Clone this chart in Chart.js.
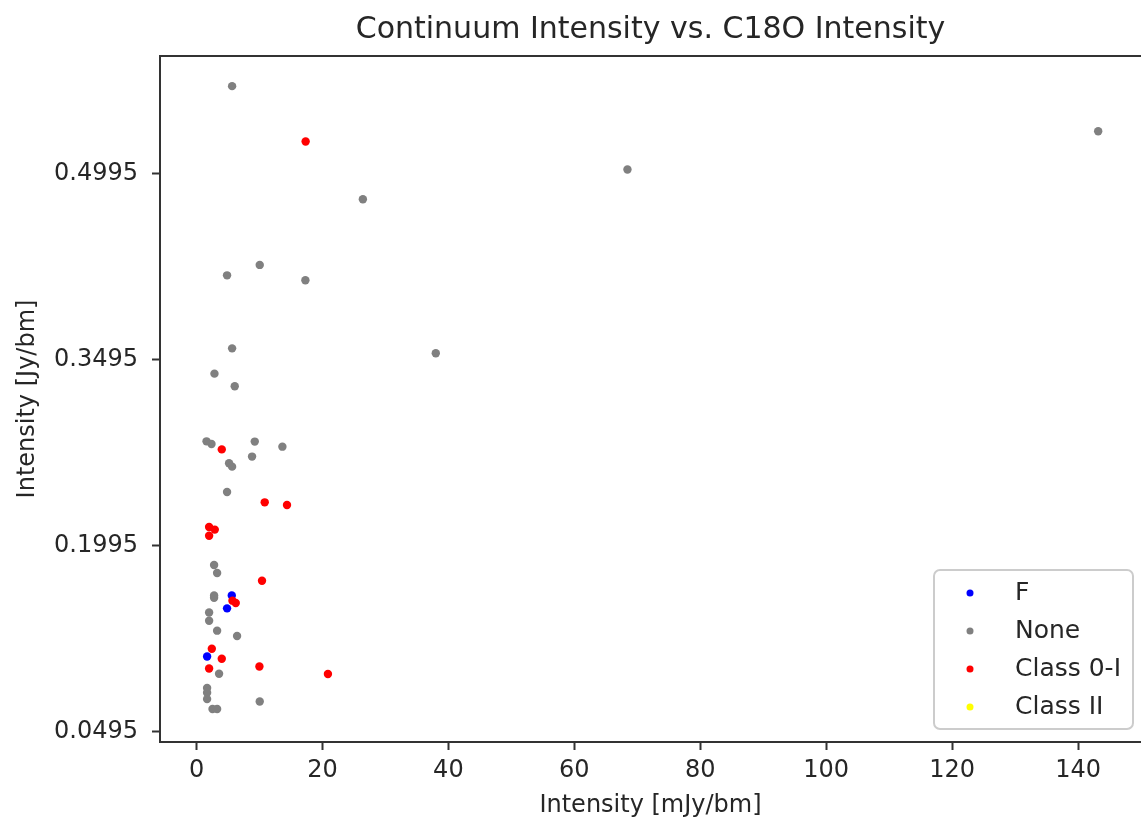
<!DOCTYPE html>
<html>
<head>
<meta charset="utf-8">
<title>Continuum Intensity vs. C18O Intensity</title>
<script src="https://cdn.jsdelivr.net/npm/chart.js@4.4.1/dist/chart.umd.min.js"></script>
<style>
  html, body { margin: 0; padding: 0; background: #fff; }
  #wrap { width: 1141px; height: 821px; }
</style>
</head>
<body>
<div id="wrap"><canvas id="scatterChart" width="1141" height="821"></canvas></div>
<script>
// values (x: C18O intensity mJy/bm, y: continuum Jy/bm)
const classF = [
    { x: 5.60, y: 0.1592 }, { x: 4.85, y: 0.1488 }, { x: 1.68, y: 0.1100 }
];
const classNone = [
    { x: 5.65, y: 0.5700 }, { x: 143.2, y: 0.5336 }, { x: 68.44, y: 0.5027 },
    { x: 26.42, y: 0.4788 }, { x: 10.04, y: 0.4258 }, { x: 4.85, y: 0.4174 },
    { x: 17.29, y: 0.4134 }, { x: 5.65, y: 0.3585 }, { x: 38.0, y: 0.3545 },
    { x: 2.85, y: 0.3381 }, { x: 6.07, y: 0.3279 }, { x: 1.59, y: 0.2835 },
    { x: 2.38, y: 0.2814 }, { x: 9.25, y: 0.2833 }, { x: 13.64, y: 0.2792 },
    { x: 8.82, y: 0.2712 }, { x: 5.17, y: 0.2658 }, { x: 5.65, y: 0.2631 },
    { x: 4.85, y: 0.2427 }, { x: 2.79, y: 0.1838 }, { x: 3.27, y: 0.1773 },
    { x: 2.79, y: 0.1592 }, { x: 2.79, y: 0.1574 }, { x: 2.00, y: 0.1455 },
    { x: 2.00, y: 0.1388 }, { x: 3.27, y: 0.1308 }, { x: 6.44, y: 0.1265 },
    { x: 3.58, y: 0.0961 }, { x: 1.68, y: 0.0845 }, { x: 1.68, y: 0.0807 },
    { x: 1.68, y: 0.0756 }, { x: 2.54, y: 0.0676 }, { x: 3.27, y: 0.0676 },
    { x: 10.04, y: 0.0737 }
];
const class0I = [
    { x: 17.33, y: 0.5253 }, { x: 4.01, y: 0.2770 }, { x: 10.83, y: 0.2343 },
    { x: 14.37, y: 0.2322 }, { x: 2.00, y: 0.2144 }, { x: 2.90, y: 0.2123 },
    { x: 2.00, y: 0.2074 }, { x: 10.40, y: 0.1711 }, { x: 5.71, y: 0.1550 },
    { x: 6.23, y: 0.1531 }, { x: 2.43, y: 0.1162 }, { x: 4.01, y: 0.1082 },
    { x: 2.00, y: 0.1003 }, { x: 9.99, y: 0.1019 }, { x: 20.87, y: 0.0958 }
];
const classII = [];

const seriesNames = ['F', 'None', 'Class 0-I', 'Class II'];
const seriesColors = ['#0000ff', '#808080', '#ff0000', '#ffff00'];

const xTicks = [0, 20, 40, 60, 80, 100, 120, 140];
const yTicks = [0.0495, 0.1995, 0.3495, 0.4995];
const yTickLabels = ['0.0495', '0.1995', '0.3495', '0.4995'];

const titleText = 'Continuum Intensity vs. C18O Intensity';

const FONT = 'DejaVu Sans';
const TEXT = '#262626';
const LINE = '#333333';

// title centred over the plot, top spine, legend inside lower right
const frameAndLegend = {
    id: 'frameAndLegend',
    afterDraw(chart) {
        const { ctx, chartArea: a } = chart;
        ctx.save();
        ctx.fillStyle = TEXT;
        ctx.font = '30px "' + FONT + '"';
        ctx.textAlign = 'center';
        ctx.textBaseline = 'middle';
        ctx.fillText(titleText, (a.left + a.right) / 2, a.top - 26);

        ctx.strokeStyle = LINE;
        ctx.lineWidth = 2;
        ctx.beginPath();
        ctx.moveTo(a.left, a.top);
        ctx.lineTo(a.right + 1, a.top);
        ctx.stroke();

        const w = 199, h = 159;
        const bx = a.right - 8 - w, by = a.bottom - 13 - h;
        ctx.fillStyle = 'rgba(255,255,255,0.8)';
        ctx.strokeStyle = '#cccccc';
        ctx.lineWidth = 2;
        ctx.beginPath();
        ctx.roundRect(bx, by, w, h, 6);
        ctx.fill();
        ctx.stroke();

        ctx.font = '25px "' + FONT + '"';
        ctx.textBaseline = 'middle';
        ctx.textAlign = 'left';
        seriesNames.forEach((name, i) => {
            const cy = by + 23 + i * 38;
            ctx.fillStyle = seriesColors[i];
            ctx.beginPath();
            ctx.arc(bx + 36, cy, 3.5, 0, Math.PI * 2);
            ctx.fill();
            ctx.fillStyle = TEXT;
            ctx.fillText(name, bx + 81, cy);
        });
        ctx.restore();
    }
};

const datasets = [classF, classNone, class0I, classII].map((pts, i) => ({
    label: seriesNames[i],
    data: pts,
    backgroundColor: seriesColors[i],
    borderWidth: 0,
    pointRadius: 4.2,
    pointHoverRadius: 4.2,
    order: 3 - i
}));

const ctx = document.getElementById('scatterChart').getContext('2d');

new Chart(ctx, {
    type: 'scatter',
    data: { datasets: datasets },
    plugins: [frameAndLegend],
    options: {
        responsive: false,
        animation: false,
        devicePixelRatio: 1,
        layout: { autoPadding: false, padding: { left: 0, right: 0, top: 56, bottom: 0 } },
        plugins: {
            legend: { display: false },
            tooltip: { enabled: false },
            title: { display: false }
        },
        scales: {
            x: {
                type: 'linear',
                min: -5.8,
                max: 150,
                afterBuildTicks: (s) => { s.ticks = xTicks.map(v => ({ value: v })); },
                afterFit: (s) => { s.height = 79; },
                ticks: {
                    callback: (v) => String(v),
                    color: TEXT,
                    font: { family: FONT, size: 24 },
                    padding: 6,
                    maxRotation: 0
                },
                grid: { drawOnChartArea: false, drawTicks: true, tickLength: 8, tickColor: LINE, tickWidth: 2 },
                border: { display: true, color: LINE, width: 2 },
                title: {
                    display: true,
                    text: 'Intensity [mJy/bm]',
                    color: TEXT,
                    font: { family: FONT, size: 24 },
                    padding: { top: 0, bottom: 1 }
                }
            },
            y: {
                type: 'linear',
                min: 0.041,
                max: 0.5943,
                afterBuildTicks: (s) => { s.ticks = yTicks.map(v => ({ value: v })); },
                afterFit: (s) => { s.width = 160; },
                ticks: {
                    callback: (v, i) => yTickLabels[i],
                    color: TEXT,
                    font: { family: FONT, size: 24 },
                    padding: 14
                },
                grid: { drawOnChartArea: false, drawTicks: true, tickLength: 8, tickColor: LINE, tickWidth: 2 },
                border: { display: true, color: LINE, width: 2 },
                title: {
                    display: true,
                    text: 'Intensity [Jy/bm]',
                    color: TEXT,
                    font: { family: FONT, size: 24 },
                    padding: { top: 13, bottom: 0 }
                }
            }
        }
    }
});
</script>
</body>
</html>
